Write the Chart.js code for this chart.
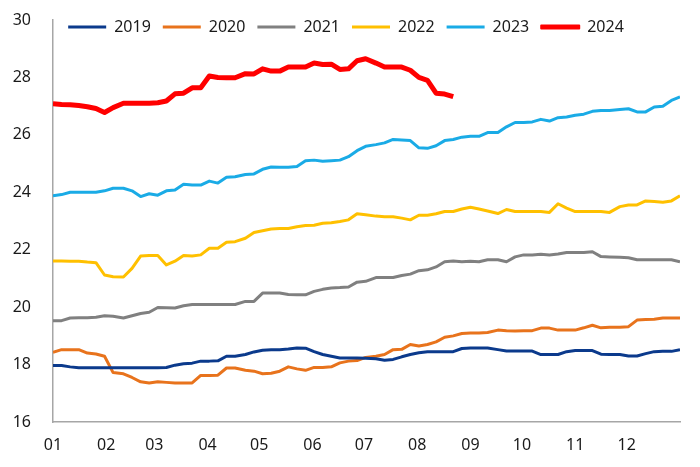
<!DOCTYPE html>
<html>
<head>
<meta charset="utf-8">
<script src="https://cdn.jsdelivr.net/npm/chart.js@4.4.1/dist/chart.umd.min.js"></script>
<style>
  html, body { margin: 0; padding: 0; background: #fff; }
</style>
</head>
<body>
<canvas id="myChart1" width="700" height="467"></canvas>
<script>
// day of year for each sample
var days = [0,5,10,15,20,25,30,35,41,46,51,56,61,66,71,76,81,86,91,96,101,106,112,117,122,127,132,137,142,147,152,157,162,167,172,177,182,188,193,198,203,208,213,218,223,228,233,238,243,248,253,259,264,269,274,279,284,289,294,299,304,309,314,319,324,330,335,340,345,350,355,360,365];

// month ticks
var monthStart = [0,31,59,90,120,151,181,212,243,273,304,334];
var monthLabels = ['01','02','03','04','05','06','07','08','09','10','11','12'];

var yTicks = [16,18,20,22,24,26,28,30];

var y2019 = [17.97,17.97,17.92,17.89,17.89,17.89,17.89,17.89,17.89,17.89,
             17.89,17.89,17.89,17.90,17.98,18.03,18.05,18.12,18.12,18.13,
             18.29,18.29,18.35,18.44,18.50,18.52,18.52,18.54,18.58,18.57,
             18.45,18.35,18.29,18.23,18.23,18.23,18.22,18.20,18.15,18.18,
             18.27,18.35,18.41,18.45,18.45,18.45,18.45,18.56,18.58,18.58,
             18.58,18.52,18.47,18.47,18.47,18.47,18.35,18.35,18.35,18.45,
             18.49,18.49,18.49,18.36,18.35,18.35,18.30,18.30,18.38,18.45,
             18.46,18.46,18.52];
var y2020 = [18.43,18.52,18.52,18.52,18.40,18.37,18.29,17.72,17.68,17.55,
             17.40,17.36,17.40,17.38,17.36,17.36,17.36,17.62,17.62,17.63,
             17.88,17.88,17.80,17.77,17.68,17.70,17.77,17.92,17.85,17.80,
             17.90,17.90,17.92,18.06,18.12,18.14,18.25,18.29,18.35,18.52,
             18.53,18.70,18.65,18.70,18.79,18.95,19.00,19.08,19.10,19.10,
             19.12,19.20,19.18,19.17,19.18,19.18,19.27,19.27,19.20,19.20,
             19.20,19.28,19.37,19.28,19.30,19.30,19.32,19.55,19.57,19.58,
             19.62,19.62,19.62];
var y2021 = [19.53,19.53,19.62,19.63,19.63,19.65,19.70,19.68,19.62,19.70,
             19.78,19.82,19.99,19.98,19.97,20.05,20.09,20.09,20.09,20.09,
             20.09,20.09,20.20,20.20,20.49,20.49,20.49,20.44,20.43,20.43,
             20.55,20.62,20.67,20.68,20.70,20.87,20.90,21.03,21.03,21.03,
             21.10,21.15,21.27,21.30,21.40,21.58,21.61,21.58,21.60,21.58,
             21.65,21.65,21.58,21.75,21.82,21.82,21.84,21.82,21.85,21.90,
             21.90,21.90,21.93,21.76,21.75,21.74,21.72,21.65,21.65,21.65,
             21.65,21.65,21.58];
var y2022 = [21.61,21.61,21.60,21.60,21.57,21.55,21.12,21.06,21.05,21.35,
             21.78,21.80,21.80,21.47,21.60,21.80,21.78,21.82,22.05,22.05,
             22.26,22.28,22.40,22.60,22.66,22.72,22.74,22.74,22.80,22.84,
             22.85,22.92,22.94,22.98,23.04,23.25,23.22,23.17,23.15,23.15,
             23.10,23.04,23.20,23.20,23.25,23.33,23.33,23.42,23.48,23.42,
             23.35,23.26,23.40,23.33,23.33,23.33,23.33,23.30,23.60,23.45,
             23.33,23.33,23.33,23.33,23.30,23.50,23.56,23.56,23.70,23.68,
             23.65,23.70,23.88];
var y2023 = [23.88,23.92,24.00,24.00,24.00,24.00,24.05,24.14,24.14,24.05,
             23.85,23.95,23.90,24.05,24.08,24.28,24.25,24.25,24.39,24.32,
             24.52,24.54,24.62,24.64,24.80,24.88,24.87,24.87,24.90,25.10,
             25.12,25.08,25.10,25.12,25.24,25.45,25.60,25.66,25.72,25.84,
             25.82,25.80,25.55,25.53,25.62,25.80,25.84,25.92,25.95,25.95,
             26.08,26.08,26.28,26.43,26.43,26.45,26.54,26.48,26.60,26.62,
             26.68,26.72,26.82,26.85,26.85,26.88,26.91,26.80,26.80,26.97,
             27.00,27.20,27.32];
var y2024 = [27.08,27.06,27.05,27.02,26.98,26.92,26.78,26.95,27.10,27.10,
             27.10,27.10,27.12,27.18,27.43,27.45,27.64,27.64,28.05,28.00,
             27.99,27.99,28.13,28.12,28.30,28.22,28.22,28.36,28.36,28.36,
             28.50,28.45,28.46,28.28,28.30,28.58,28.65,28.50,28.36,28.36,
             28.36,28.25,28.00,27.90,27.45,27.42,27.33];

function pts(values) {
    return values.map(function(v, i){ return {x: days[i], y: v}; });
}

function line(label, values, color, width) {
    return {
        label: label,
        data: pts(values),
        borderColor: color,
        backgroundColor: color,
        borderWidth: width,
        pointRadius: 0,
        tension: 0,
        borderJoinStyle: 'round'
    };
}

// legend sits over the top of the plot instead of taking its own row
var legendOverlay = {
    id: 'legendOverlay',
    beforeLayout: function(chart) {
        var lg = chart.legend;
        if (lg && !lg._patched) {
            var fit = lg.fit;
            lg.fit = function() { fit.call(this); this.height = 0; };
            lg._patched = true;
        }
    },
    afterLayout: function(chart) {
        var lg = chart.legend;
        lg.top = 7;
        lg.bottom = 47;
        lg.height = 40;
    }
};

var txt = '#1a1a1a';
var font = {family: '"Noto Sans", sans-serif', size: 16};

var ctx = document.getElementById('myChart1');
var LineGraph = new Chart(ctx, {
    type: 'line',
    data: {
        datasets: [
            line('2019', y2019, '#0b3a8c', 3),
            line('2020', y2020, '#e8731c', 3),
            line('2021', y2021, '#808080', 3),
            line('2022', y2022, '#ffc000', 3),
            line('2023', y2023, '#1aabe6', 3),
            line('2024', y2024, '#ff0000', 5)
        ]
    },
    options: {
        responsive: false,
        animation: false,
        devicePixelRatio: 1,
        layout: { padding: {left: 12, right: 20, top: 20, bottom: 11} },
        plugins: {
            tooltip: { enabled: false },
            legend: {
                position: 'top',
                labels: {
                    color: txt,
                    font: font,
                    boxWidth: 38,
                    boxHeight: 3,
                    padding: 12,
                    generateLabels: function(chart) {
                        var items = Chart.defaults.plugins.legend.labels.generateLabels(chart);
                        items.forEach(function(it) {
                            it.fillStyle = it.strokeStyle;
                            it.lineWidth = it.text === '2024' ? 2 : 0;
                        });
                        return items;
                    }
                }
            }
        },
        scales: {
            x: {
                type: 'linear',
                min: 0,
                max: 365,
                grid: { display: false, drawTicks: false },
                border: { display: true, color: '#a6a6a6', width: 1.5 },
                afterBuildTicks: function(scale) {
                    scale.ticks = monthStart.map(function(d){ return {value: d}; });
                },
                afterFit: function(scale) {
                    scale.height = 34;
                },
                ticks: {
                    autoSkip: false,
                    maxRotation: 0,
                    padding: 14,
                    color: txt,
                    font: font,
                    callback: function(value, index) { return monthLabels[index]; }
                }
            },
            y: {
                min: 16,
                max: 30,
                grid: { display: false, drawTicks: false },
                border: { display: true, color: '#a6a6a6', width: 1.5 },
                afterBuildTicks: function(scale) {
                    scale.ticks = yTicks.map(function(v){ return {value: v}; });
                },
                afterFit: function(scale) {
                    scale.width = 41;
                    scale.paddingTop = 0;
                    scale.paddingBottom = 0;
                },
                ticks: {
                    padding: 22,
                    color: txt,
                    font: font
                }
            }
        }
    },
    plugins: [legendOverlay]
});
</script>
</body>
</html>
